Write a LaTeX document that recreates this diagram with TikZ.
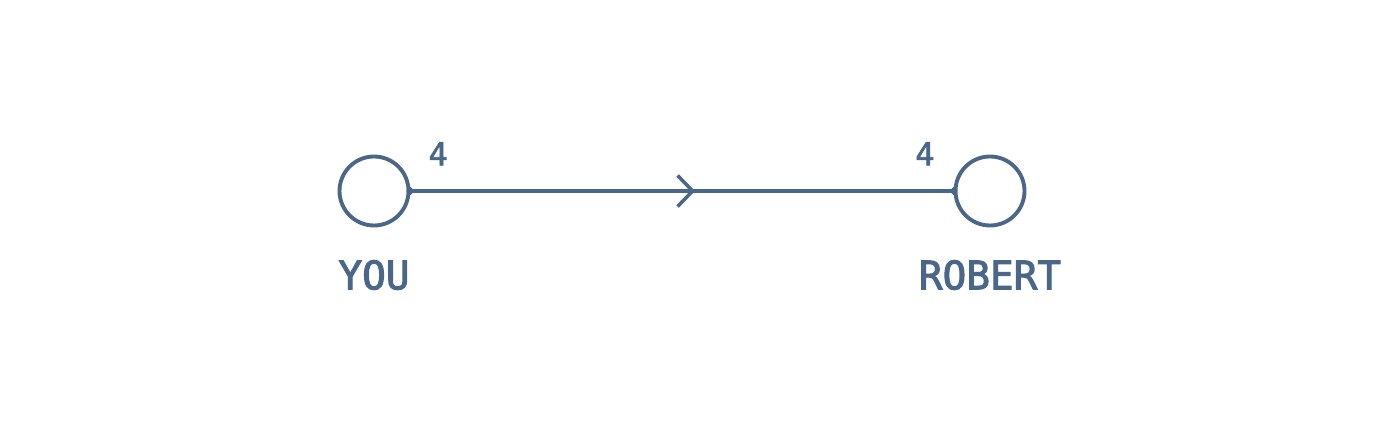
\documentclass[tikz,border=0pt]{standalone}
\usepackage{fontspec}
\newfontfamily\graphmono[FakeBold=2.5]{DejaVu Sans Mono}
\usetikzlibrary{arrows.meta, positioning, decorations.markings}
\definecolor{graphblue}{HTML}{4A6789}

\begin{document}
\begin{tikzpicture}[node distance=0.32cm,
  person/.style={draw=graphblue, line width=1.1pt, circle, minimum size=0.69cm,
    inner sep=0pt},
  personname/.style={text=graphblue, inner sep=0pt,
    font=\graphmono\fontsize{11.2}{13}\selectfont},
  wlabel/.style={text=graphblue, inner sep=0pt,
    font=\graphmono\fontsize{9}{11}\selectfont},
  link/.style={draw=graphblue, line width=1pt,
    {Circle[length=0.7mm]}-{Circle[length=0.7mm]}, shorten <=-0.35mm, shorten >=-0.35mm,
    decoration={markings, mark=at position 0.524 with
      {\arrow{Straight Barb[length=1.5mm, width=3.1mm]}}},
    postaction={decorate}}]
  \useasboundingbox (0,0) rectangle (14,4.3);
  \node[person] (you) at (3.74,2.39) {};
  \node[person] (robert) at (9.90,2.39) {};
  \node[personname, below=of you] (youname) {YOU};
  \node[personname, below=of robert] (robertname) {ROBERT};
  \node[wlabel, above right=0.25cm and 0.175cm of you.east] (youw) {4};
  \node[wlabel, above left=0.25cm and 0.185cm of robert.west] (robertw) {4};
  \draw[link] (you) -- (robert);
\end{tikzpicture}
\end{document}
